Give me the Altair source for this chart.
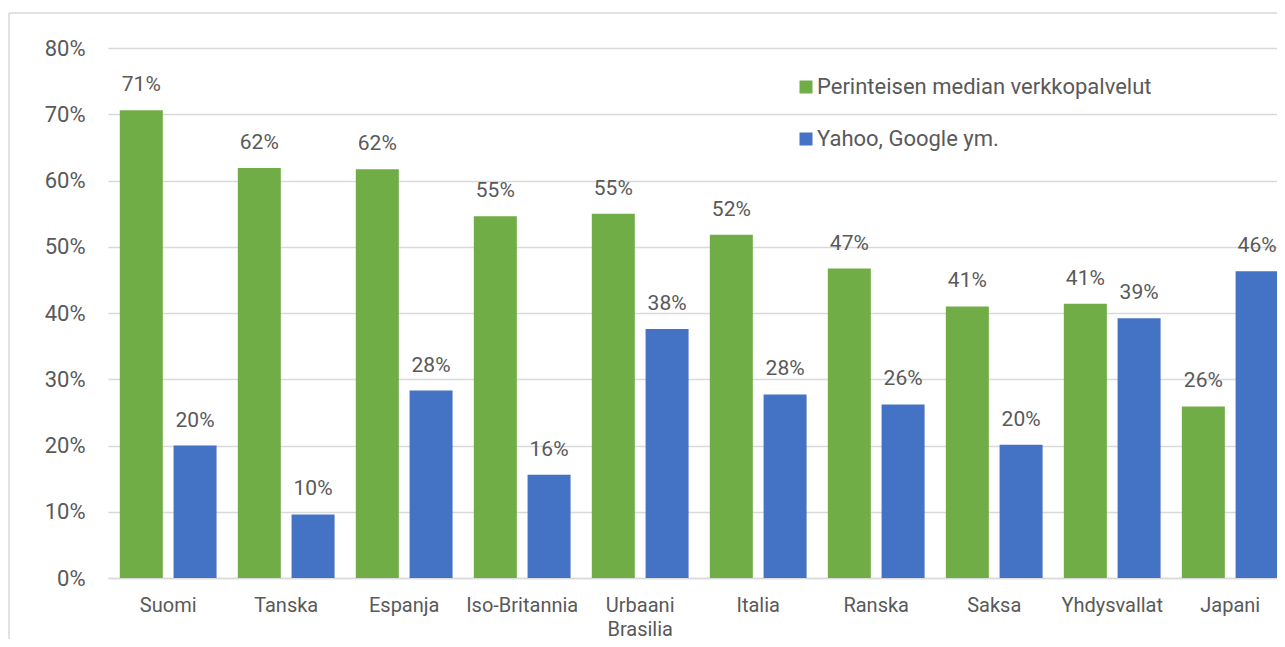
import altair as alt
import pandas as pd

countries = ["Suomi", "Tanska", "Espanja", "Iso-Britannia", "Urbaani Brasilia",
             "Italia", "Ranska", "Saksa", "Yhdysvallat", "Japani"]
series_names = ["Perinteisen median verkkopalvelut", "Yahoo, Google ym."]
traditional = [70.6, 61.9, 61.7, 54.6, 55.0, 51.8, 46.7, 41.0, 41.4, 25.9]
portals = [20.0, 9.6, 28.3, 15.6, 37.6, 27.7, 26.2, 20.1, 39.2, 46.3]
y_ticks = [0, 0.1, 0.2, 0.3, 0.4, 0.5, 0.6, 0.7, 0.8]
colors = ["#70AD47", "#4472C4"]

rows = []
for i, c in enumerate(countries):
    rows.append({"maa": c, "sarja": series_names[0], "arvo": traditional[i] / 100})
    rows.append({"maa": c, "sarja": series_names[1], "arvo": portals[i] / 100})
df = pd.DataFrame(rows)

FONT = "Roboto"
TEXT = "#595959"
GRID = "#D9D9D9"

x = alt.X(
    "maa:N", sort=countries, title=None,
    scale=alt.Scale(range=[0, 1182.4], paddingInner=0.18, paddingOuter=0.1),
    axis=alt.Axis(labelAngle=0, labelExpr="split(datum.label, ' ')",
                  labelLineHeight=24, labelPadding=17, ticks=False, tickSize=0,
                  domainColor=GRID, domainWidth=1.5, labelFontSize=20,
                  labelColor=TEXT, labelFont=FONT),
)
xo = alt.XOffset("sarja:N", sort=series_names,
                 scale=alt.Scale(paddingInner=0.2, paddingOuter=0))
y = alt.Y(
    "arvo:Q", title=None, scale=alt.Scale(domain=[0, 0.8]),
    axis=alt.Axis(values=y_ticks, format=".0%", grid=True, gridColor=GRID,
                  gridWidth=1.5, domain=False, ticks=False, tickSize=0,
                  labelPadding=23, labelFontSize=22, labelColor=TEXT,
                  labelFont=FONT),
)
color = alt.Color(
    "sarja:N", sort=series_names,
    scale=alt.Scale(domain=series_names, range=colors),
    legend=alt.Legend(title=None, orient="none", legendX=687, legendY=28,
                      symbolType="square", symbolSize=169, symbolStrokeWidth=0,
                      labelFontSize=22, labelColor=TEXT, labelFont=FONT,
                      labelLimit=0, rowPadding=30, labelOffset=0, padding=0),
)

bars = alt.Chart(df).mark_bar().encode(x=x, xOffset=xo, y=y, color=color)
labels = alt.Chart(df).mark_text(
    baseline="alphabetic", dy=-19, fontSize=21, font=FONT, color=TEXT
).encode(x=x, xOffset=xo, y=y, text=alt.Text("arvo:Q", format=".0%"))

one = pd.DataFrame({"k": [0]})
top_border = alt.Chart(one).mark_rule(color=GRID, strokeWidth=1.5).encode(
    x=alt.value(-99), x2=alt.value(1169), y=alt.value(-35)
)
left_border = alt.Chart(one).mark_rule(color=GRID, strokeWidth=1.5).encode(
    x=alt.value(-99), y=alt.value(-35), y2=alt.value(591)
)

chart = alt.layer(bars, labels, top_border, left_border).properties(
    width=1169, height=530,
    padding={"left": 100, "top": 40, "right": 0, "bottom": 61},
    autosize=alt.AutoSizeParams(type="none"),
).configure_view(stroke=None)

chart.save("out.html", embed_options={"renderer": "svg", "actions": False})
